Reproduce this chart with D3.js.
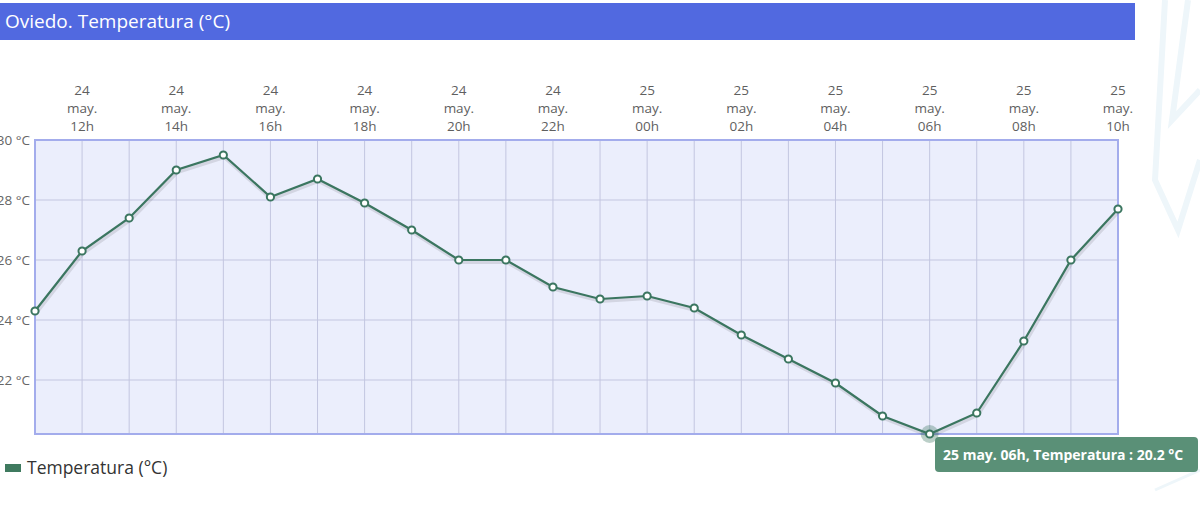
<!DOCTYPE html>
<html><head><meta charset="utf-8">
<script src="https://cdn.jsdelivr.net/npm/d3@7"></script>
<style>body{margin:0;background:#fff;overflow:hidden}svg{display:block}</style>
</head><body><svg id="c" width="1200" height="510"></svg>
<script>
const hours = ["11h","12h","13h","14h","15h","16h","17h","18h","19h","20h","21h","22h","23h","00h","01h","02h","03h","04h","05h","06h","07h","08h","09h","10h"];
const days = ["24","24","24","24","24","24","24","24","24","24","24","24","24","25","25","25","25","25","25","25","25","25","25","25"];
const temps = [24.3,26.3,27.4,29.0,29.5,28.1,28.7,27.9,27.0,26.0,26.0,25.1,24.7,24.8,24.4,23.5,22.7,21.9,20.8,20.2,20.9,23.3,26.0,27.7];
const yTicks = [22,24,26,28,30];
const title = "Oviedo. Temperatura (°C)";
const seriesName = "Temperatura (°C)";
const hoverIndex = 19;

const svg = d3.select("#c");
const font = "'Open Sans', 'Noto Sans', sans-serif";
const L = 35, R = 1118, T = 140, B = 434;

// faint background decoration at right
const deco = svg.append("g").attr("stroke","#eef6fa").attr("fill","none").attr("stroke-width",6);
deco.append("path").attr("d","M1165,0 L1155,180 L1178,230 L1200,160");
deco.append("path").attr("d","M1188,0 L1172,120 L1200,90");
deco.append("path").attr("d","M1155,490 L1200,470").attr("stroke-width",3);

// title bar
svg.append("rect").attr("x",0).attr("y",3).attr("width",1135).attr("height",37).attr("fill","#5169e0");
svg.append("text").attr("x",5).attr("y",28).attr("fill","#fff").attr("font-family",font).attr("font-size",19).text(title);

const x = d3.scaleLinear().domain([0, temps.length-1]).range([L, R]);
const y = d3.scaleLinear().domain([d3.min(temps), 30]).range([B, T]);

svg.append("rect").attr("x",L).attr("y",T).attr("width",R-L).attr("height",B-T).attr("fill","#ebeefc");

// vertical grid
svg.append("g").selectAll("line").data(d3.range(1, temps.length-1)).join("line")
  .attr("x1",d=>x(d)).attr("x2",d=>x(d)).attr("y1",T).attr("y2",B)
  .attr("stroke","#c3c6e0").attr("stroke-width",1);
// horizontal grid
svg.append("g").selectAll("line").data(yTicks.slice(0,-1)).join("line")
  .attr("x1",L).attr("x2",R).attr("y1",d=>y(d)).attr("y2",d=>y(d))
  .attr("stroke","#c3c6e0").attr("stroke-width",1);

svg.append("rect").attr("x",L).attr("y",T).attr("width",R-L).attr("height",B-T)
  .attr("fill","none").attr("stroke","#a3acec").attr("stroke-width",2);

// y labels
svg.append("g").selectAll("text").data(yTicks).join("text")
  .attr("x",L-5).attr("y",d=>y(d)+5).attr("text-anchor","end")
  .attr("font-family",font).attr("font-size",13.5).attr("fill","#666")
  .text(d=>d+" °C");

// x labels (every 2 hours)
const xl = svg.append("g").selectAll("g").data(d3.range(1, temps.length, 2)).join("g")
  .attr("transform",d=>`translate(${x(d)},0)`);
xl.each(function(d){
  const g = d3.select(this);
  [days[d],"may.",hours[d]].forEach((t,i)=>{
    g.append("text").attr("x",0).attr("y",95+i*18).attr("text-anchor","middle")
      .attr("font-family",font).attr("font-size",13.5).attr("fill","#5f5f5f").text(t);
  });
});

const lineGen = d3.line().x((d,i)=>x(i)).y(d=>y(d));
svg.append("path").datum(temps).attr("d",lineGen).attr("fill","none")
  .attr("stroke","#000").attr("stroke-opacity",0.1).attr("stroke-width",4).attr("transform","translate(1,2)");
svg.append("path").datum(temps).attr("d",lineGen).attr("fill","none")
  .attr("stroke","#3b7660").attr("stroke-width",2.2);

// hover halo
svg.append("circle").attr("cx",x(hoverIndex)).attr("cy",y(temps[hoverIndex])).attr("r",9)
  .attr("fill","#3b7660").attr("fill-opacity",0.35);

svg.append("g").selectAll("circle").data(temps).join("circle")
  .attr("cx",(d,i)=>x(i)).attr("cy",d=>y(d)).attr("r",3.6)
  .attr("fill","#fff").attr("stroke","#3b7660").attr("stroke-width",2);

// tooltip
const tx = 935, ty = 437;
svg.append("rect").attr("x",tx).attr("y",ty).attr("width",263).attr("height",35).attr("rx",4)
  .attr("fill","#5a9077");
svg.append("text").attr("x",tx+8).attr("y",ty+23).attr("fill","#fff").attr("font-weight","bold")
  .attr("font-family",font).attr("font-size",14)
  .text(`${days[hoverIndex]} may. ${hours[hoverIndex]}, Temperatura : ${temps[hoverIndex].toFixed(1)} °C`);

// legend
svg.append("rect").attr("x",5).attr("y",464).attr("width",16).attr("height",8).attr("fill","#3f7a5f");
svg.append("text").attr("x",27).attr("y",474).attr("font-family",font).attr("font-size",17.5).attr("fill","#333").text(seriesName);
</script></body></html>
